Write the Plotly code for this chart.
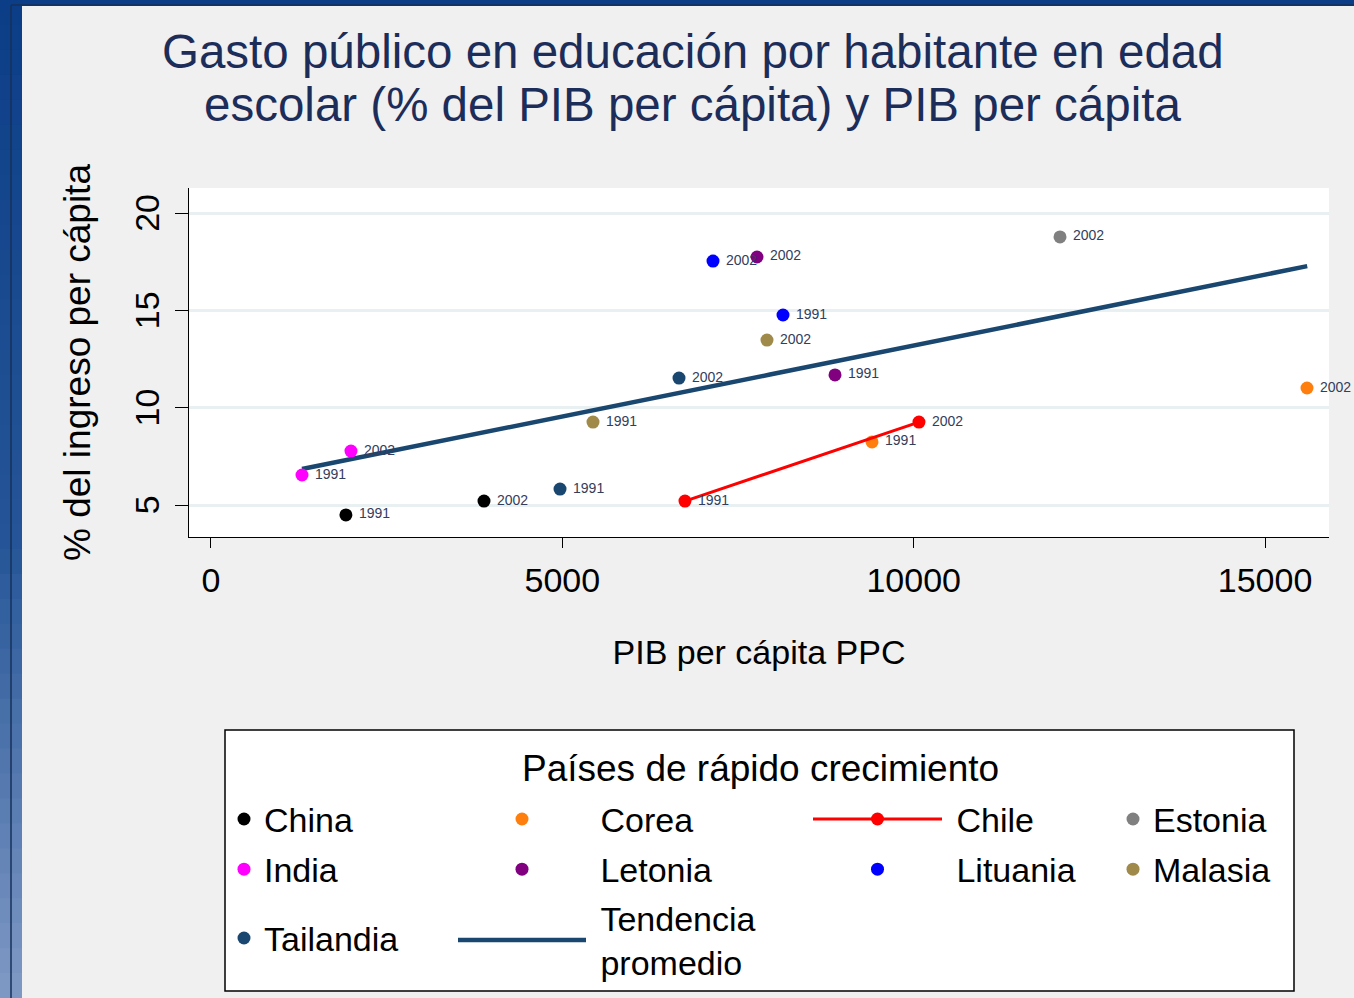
import plotly.graph_objects as go

# ---------------- data ----------------
years = ["1991", "2002"]
china_x = [1920, 3885]
china_y = [4.49, 5.20]
india_x = [1295, 1992]
india_y = [6.54, 7.77]
tailandia_x = [4967, 6660]
tailandia_y = [5.82, 11.52]
malasia_x = [5436, 7912]
malasia_y = [9.26, 13.47]
lituania_x = [8140, 7144]
lituania_y = [14.76, 17.53]
letonia_x = [8880, 7770]
letonia_y = [11.68, 17.74]
estonia_x = [12082]
estonia_y = [18.77]
estonia_years = ["2002"]
corea_x = [9407, 15597]
corea_y = [8.24, 11.01]
chile_x = [6745, 10075]
chile_y = [5.20, 9.26]
trend_x = [1295, 6674, 7955, 15600]
trend_y = [6.85, 10.80, 11.70, 17.27]

x_ticks = [0, 5000, 10000, 15000]
y_ticks = [5, 10, 15, 20]

title_line1 = "Gasto público en educación por habitante en edad"
title_line2 = "escolar (% del PIB per cápita) y PIB per cápita"
x_title = "PIB per cápita PPC"
y_title = "% del ingreso per cápita"
legend_title = "Países de rápido crecimiento"

# ---------------- layout geometry ----------------
FW, FH = 1354, 998
L, R, T, B = 189, 1329, 188, 537
PW, PH = R - L, B - T

def px(x):
    return (x - L) / PW

def py(y):
    return (B - y) / PH

FONT = "Arial, Liberation Sans, Helvetica, sans-serif"
LABEL_COLOR = "#333d5c"
NB = "\u00a0"

fig = go.Figure()

def add_country(name, xs, ys, color, legend, group, labels=years, mode="markers+text", line=None):
    fig.add_trace(go.Scatter(
        x=xs, y=ys, name=name, mode=mode,
        marker=dict(color=color, size=13),
        line=line,
        text=[NB + t for t in labels], textposition="middle right",
        textfont=dict(size=14, color=LABEL_COLOR, family=FONT),
        legend=legend, legendgroup=group,
        cliponaxis=False,
    ))

# trend line first (drawn beneath points)
fig.add_trace(go.Scatter(
    x=trend_x, y=trend_y, name=NB + "Tendencia<br>" + NB + "promedio", mode="lines",
    line=dict(color="#1a476f", width=4.5),
    legend="legend6", legendgroup="g_trend",
))

add_country("China", china_x, china_y, "#000000", "legend", "g1")
add_country("India", india_x, india_y, "#ff00ff", "legend", "g2")
add_country("Tailandia", tailandia_x, tailandia_y, "#1a476f", "legend5", "g3")
add_country(NB + "Corea", corea_x, corea_y, "#ff7f0e", "legend2", "g4")
add_country(NB + "Letonia", letonia_x, letonia_y, "#800080", "legend2", "g5")
add_country(NB + "Chile", chile_x, chile_y, "#ff0000", "legend3", "g6",
            mode="lines+markers+text", line=dict(color="#ff0000", width=3))
add_country(NB + "Lituania", lituania_x, lituania_y, "#0000ff", "legend3", "g7")
add_country("Estonia", estonia_x, estonia_y, "#808080", "legend4", "g8", labels=estonia_years)
add_country("Malasia", malasia_x, malasia_y, "#a08a4a", "legend4", "g9")

# ---------------- legends ----------------
ITEM_H = 34 * 1.3 + 3

def legend_cfg(origin_x, row_center, itemwidth):
    top = row_center - (5 + ITEM_H / 2)
    return dict(
        x=px(origin_x), y=py(top), xanchor="left", yanchor="top",
        orientation="v", itemwidth=itemwidth, bgcolor="rgba(0,0,0,0)",
        borderwidth=0, font=dict(size=34, color="#000000", family=FONT),
        tracegroupgap=3, traceorder="grouped",
    )

# ---------------- decorations (slide frame) ----------------
shapes = []
stops = [(0.0, (12, 62, 136)), (0.55, (38, 86, 152)), (1.0, (126, 152, 196))]

def frame_color(f):
    for (f0, a), (f1, b) in zip(stops[:-1], stops[1:]):
        if f <= f1:
            t = (f - f0) / (f1 - f0)
            return tuple(int(round(a[k] + (b[k] - a[k]) * t)) for k in range(3))
    return stops[-1][1]

n = 40
for i in range(n):
    col = frame_color(i / (n - 1))
    y0 = FH * i / n
    y1 = FH * (i + 1) / n + 1
    shapes.append(dict(type="rect", xref="paper", yref="paper",
                       x0=px(0), x1=px(22), y0=py(y1), y1=py(y0),
                       fillcolor="rgb(%d,%d,%d)" % col, line=dict(width=0), layer="below"))
shapes.append(dict(type="rect", xref="paper", yref="paper",
                   x0=px(0), x1=px(FW), y0=py(6), y1=py(0),
                   fillcolor="#0c3e88", line=dict(width=0), layer="below"))
shapes.append(dict(type="line", xref="paper", yref="paper",
                   x0=px(11), x1=px(11), y0=py(FH), y1=py(5),
                   line=dict(color="#16305a", width=1.5), layer="below"))
shapes.append(dict(type="line", xref="paper", yref="paper",
                   x0=px(11), x1=px(FW), y0=py(5), y1=py(5),
                   line=dict(color="#16305a", width=1.5), layer="below"))
# legend box
shapes.append(dict(type="rect", xref="paper", yref="paper",
                   x0=px(225), x1=px(1294), y0=py(991), y1=py(730),
                   fillcolor="#ffffff", line=dict(color="#000000", width=1.5), layer="below"))

annotations = [
    dict(text=title_line1, xref="paper", yref="paper", x=px(692.5), y=py(52),
         xanchor="center", yanchor="middle", showarrow=False,
         font=dict(size=47.5, color="#1c2d5a", family=FONT)),
    dict(text=title_line2, xref="paper", yref="paper", x=px(692.5), y=py(104),
         xanchor="center", yanchor="middle", showarrow=False,
         font=dict(size=47.5, color="#1c2d5a", family=FONT)),
    dict(text=legend_title, xref="paper", yref="paper", x=px(760), y=py(768),
         xanchor="center", yanchor="middle", showarrow=False,
         font=dict(size=37, color="#000000", family=FONT)),
]

fig.update_layout(
    width=FW, height=FH,
    margin=dict(l=L, r=FW - R, t=T, b=FH - B, autoexpand=False),
    paper_bgcolor="#f0f0f0", plot_bgcolor="#ffffff",
    font=dict(family=FONT, color="#000000"),
    showlegend=True,
    legend=legend_cfg(224, 819, 30),
    legend5=legend_cfg(224, 938, 30),
    legend2=legend_cfg(453, 819, 128),
    legend6=legend_cfg(453, 918, 128),
    legend3=legend_cfg(808, 819, 129),
    legend4=legend_cfg(1113, 819, 30),
    shapes=shapes,
    annotations=annotations,
    xaxis=dict(
        range=[-313, 15910], tickvals=x_ticks, ticktext=[str(v) for v in x_ticks],
        showgrid=False, zeroline=False, showline=True, linecolor="#000000", linewidth=1.2,
        ticks="outside", ticklen=10, tickcolor="#000000", tickwidth=1.2,
        ticklabelstandoff=3,
        tickfont=dict(size=34, color="#000000", family=FONT),
        title=dict(text=x_title, font=dict(size=34, color="#000000", family=FONT), standoff=42),
    ),
    yaxis=dict(
        range=[3.356, 21.284], tickvals=y_ticks, ticktext=[str(v) for v in y_ticks],
        showgrid=True, gridcolor="#e8f0f2", gridwidth=3, zeroline=False,
        showline=True, linecolor="#000000", linewidth=1.2,
        ticks="outside", ticklen=13, tickcolor="#000000", tickwidth=1.2, tickangle=-90,
        ticklabelstandoff=2, ticklabelshift=5,
        tickfont=dict(size=34, color="#000000", family=FONT),
        title=dict(text=y_title, font=dict(size=37, color="#000000", family=FONT), standoff=26),
    ),
)

fig.write_html("out.html", config={"displayModeBar": False},
               post_script="document.body.style.margin='0';")
